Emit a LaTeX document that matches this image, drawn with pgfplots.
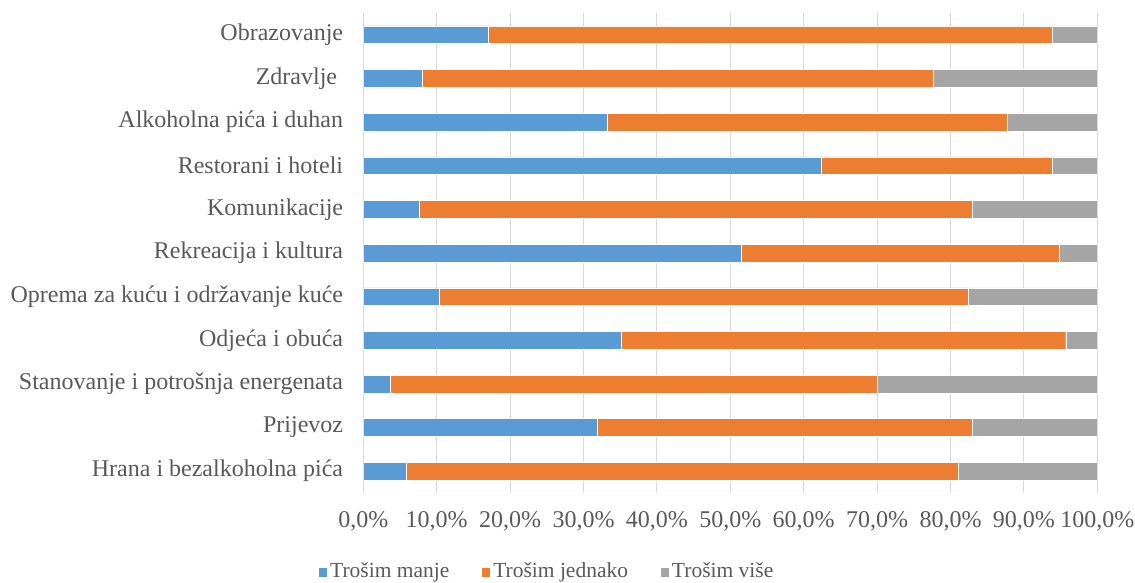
\documentclass[border=0pt]{standalone}
\usepackage{pgfplots}
\pgfplotsset{compat=1.18}
\usepackage{fontspec}
\setmainfont{Liberation Serif}
\definecolor{cblue}{HTML}{5B9BD5}
\definecolor{corange}{HTML}{ED7D31}
\definecolor{cgray}{HTML}{A5A5A5}
\definecolor{ctext}{HTML}{595959}
\definecolor{cgrid}{HTML}{D9D9D9}
\newcommand{\chartfont}{\rmfamily\fontsize{24}{28}\selectfont}
\newcommand{\legendfont}{\rmfamily\fontsize{21.5}{25}\selectfont}
\begin{document}
\chartfont
\begin{tikzpicture}
\begin{axis}[
    at={(0,0)}, anchor=south west,
    scale only axis,
    width=734pt, height=480pt,
    xbar stacked,
    bar width=17.7pt,
    xmin=0, xmax=100,
    ymin=-0.5, ymax=10.5,
    xtick={0,10,...,100},
    xticklabels={{0,0\%},{10,0\%},{20,0\%},{30,0\%},{40,0\%},{50,0\%},{60,0\%},{70,0\%},{80,0\%},{90,0\%},{100,0\%}},
    ytick={0,...,10},
    yticklabels={Hrana i bezalkoholna pića, Prijevoz, Stanovanje i potrošnja energenata, Odjeća i obuća, Oprema za kuću i održavanje kuće, Rekreacija i kultura, Komunikacije, Restorani i hoteli, Alkoholna pića i duhan, {Zdravlje\hspace*{6pt}}, Obrazovanje},
    major tick length=0pt,
    xmajorgrids,
    grid style={draw=cgrid, line width=1pt},
    axis line style={draw=none},
    tick label style={text=ctext, font=\chartfont, inner sep=0pt},
    yticklabel style={anchor=east, xshift=-20pt},
    xticklabel style={anchor=north, yshift=-18.5pt},
    legend style={at={(0.25,-0.165)}, anchor=center, draw=none, fill=none,
        legend columns=3, text=ctext, font=\legendfont,
        /tikz/every even column/.append style={column sep=29pt},
        nodes={inner sep=2.5pt}},
    legend image code/.code={\fill[#1] (0pt,-5pt) rectangle (9.5pt,5pt);},
]
\addplot[fill=cblue, draw=white, line width=0.4pt] coordinates {
    (5.8,0) (31.9,1) (3.7,2) (35.2,3) (10.4,4) (51.5,5)
    (7.6,6) (62.4,7) (33.2,8) (8.0,9) (17.0,10)
};
\addlegendentry{Trošim manje}
\addplot[fill=corange, draw=white, line width=0.4pt] coordinates {
    (75.2,0) (51.0,1) (66.3,2) (60.5,3) (72.0,4) (43.3,5)
    (75.3,6) (31.4,7) (54.5,8) (69.7,9) (76.8,10)
};
\addlegendentry{Trošim jednako}
\addplot[fill=cgray, draw=white, line width=0.4pt] coordinates {
    (19.0,0) (17.1,1) (30.0,2) (4.3,3) (17.6,4) (5.2,5)
    (17.1,6) (6.2,7) (12.3,8) (22.3,9) (6.2,10)
};
\addlegendentry{Trošim više}
\end{axis}
\pgfresetboundingbox
\path[use as bounding box] (-363.3pt,-90pt) rectangle (771.7pt,493pt);
\end{tikzpicture}
\end{document}
